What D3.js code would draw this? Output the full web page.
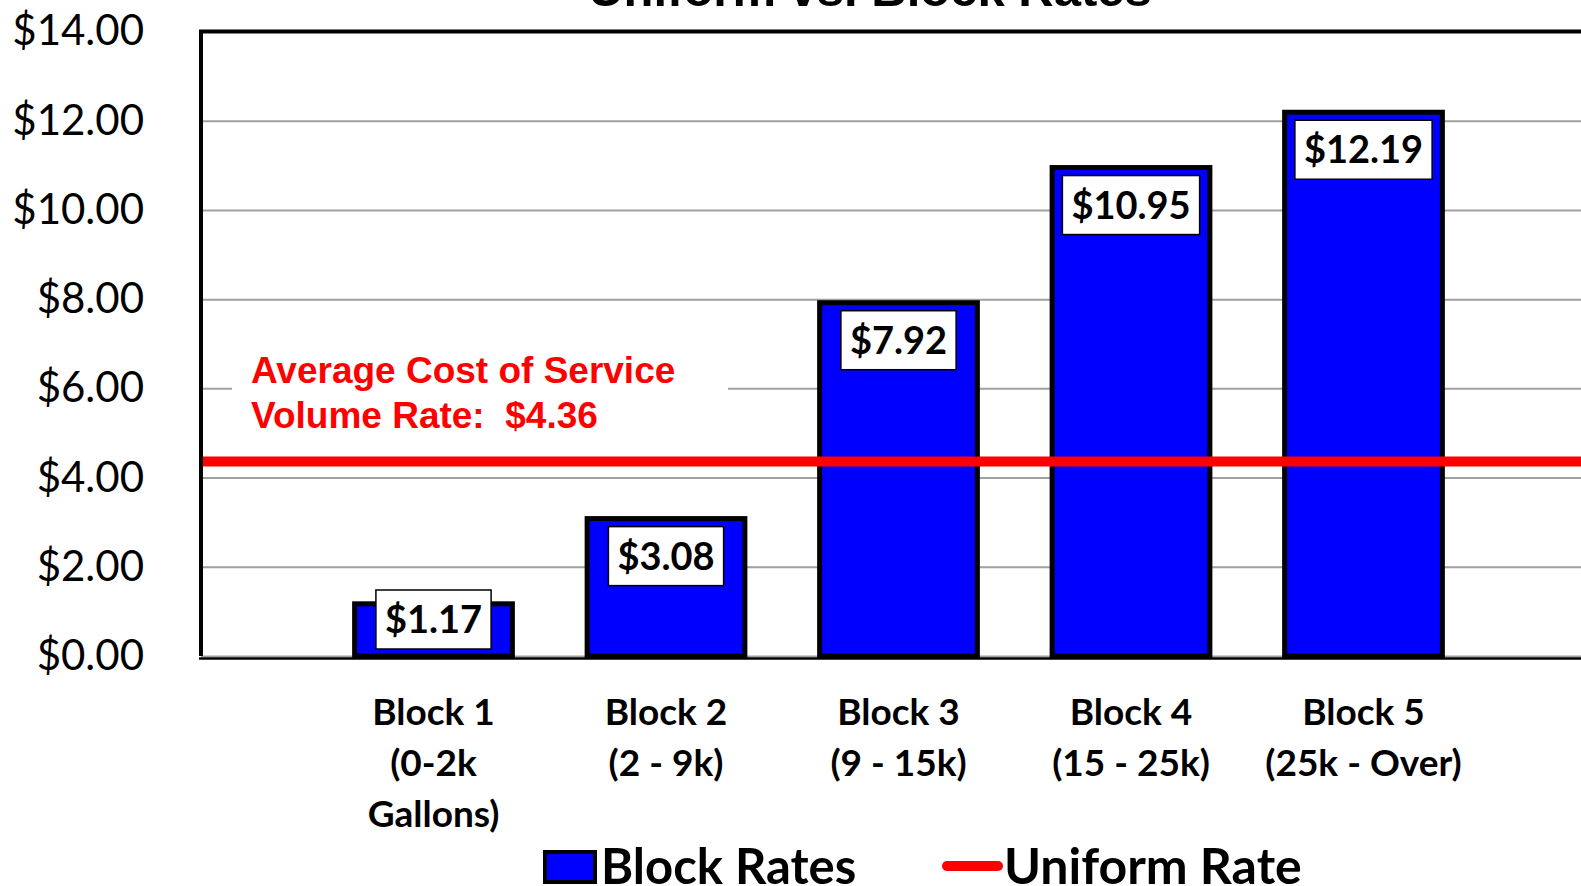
<!DOCTYPE html>
<html>
<head>
<meta charset="utf-8">
<script src="https://cdn.jsdelivr.net/npm/d3@7"></script>
<style>
  body { margin: 0; background: #fff; }
  svg { display: block; }
</style>
</head>
<body>
<svg id="rates-chart" width="1581" height="886"></svg>
<script>
// Uniform vs. Block Rates
const categories = ["Block 1", "Block 2", "Block 3", "Block 4", "Block 5"];
const subLabels = [["(0-2k", "Gallons)"], ["(2 - 9k)"], ["(9 - 15k)"], ["(15 - 25k)"], ["(25k - Over)"]];
const blockRates = [1.17, 3.08, 7.92, 10.95, 12.19];
const uniformRate = 4.36;
const yTicks = [0, 2, 4, 6, 8, 10, 12, 14];
const noteLines = ["Average Cost of Service", "Volume Rate:  $4.36"];

let svg = d3.select("#rates-chart");
const plotL = 201, plotR = 1596, plotT = 31.5, plotB = 656;

let y = d3.scaleLinear().domain([0, 14]).range([plotB, plotT]);
let x = d3.scaleBand()
          .domain(categories)
          .range([317.25, 1479.75])
          .paddingInner(0.3)
          .paddingOuter(0.15);

// title (cut off at top)
svg.append("text")
   .attr("x", 870).attr("y", 6)
   .attr("text-anchor", "middle")
   .style("font", "bold 49px 'Liberation Sans', Arial, sans-serif")
   .text("Uniform vs. Block Rates");

// gridlines
let grid = svg.append("g")
   .attr("transform", `translate(${plotL},0)`)
   .call(d3.axisLeft(y).tickValues(yTicks).tickSize(-(plotR - plotL)).tickFormat(""));
grid.select(".domain").remove();
grid.selectAll("line").attr("stroke", "#a0a0a0").attr("stroke-width", 2);

// note box (hides gridline behind text)
svg.append("rect")
   .attr("x", 232).attr("y", 345)
   .attr("width", 496).attr("height", 93)
   .attr("fill", "white");
svg.append("g").selectAll("text").data(noteLines)
   .join("text")
   .attr("x", 251)
   .attr("y", (d, i) => 383 + i * 45)
   .attr("fill", "#ff0000")
   .style("white-space", "pre")
   .style("font", "bold 37px 'Liberation Sans', Arial, sans-serif")
   .text(d => d);

// bars
svg.append("g").selectAll("rect").data(blockRates)
   .join("rect")
   .attr("x", (d, i) => x(categories[i]) + 2.5)
   .attr("width", x.bandwidth() - 5)
   .attr("y", d => y(d))
   .attr("height", d => y(0) - y(d))
   .attr("fill", "#0000ff")
   .attr("stroke", "black")
   .attr("stroke-width", 5);

// value labels
const boxH = 59;
let labels = svg.append("g").selectAll("g").data(blockRates)
   .join("g")
   .attr("transform", (d, i) => {
     let cx = x(categories[i]) + x.bandwidth() / 2;
     let ty = Math.min(y(d) + 8, plotB - 7 - boxH);
     return `translate(${cx},${ty})`;
   });
labels.append("rect")
   .attr("fill", "white").attr("stroke", "black").attr("stroke-width", 1.5)
   .attr("y", 0).attr("height", boxH);
labels.append("text")
   .attr("text-anchor", "middle")
   .attr("y", boxH / 2)
   .attr("dy", "0.36em")
   .style("font", "bold 38px Lato, sans-serif")
   .text(d => d3.format("$.2f")(d));
labels.each(function() {
  let w = d3.select(this).select("text").node().getBBox().width + 18;
  d3.select(this).select("rect").attr("x", -w / 2).attr("width", w);
});

// uniform rate line
svg.append("line")
   .attr("x1", plotL).attr("x2", plotR)
   .attr("y1", y(uniformRate)).attr("y2", y(uniformRate))
   .attr("stroke", "#ff0000").attr("stroke-width", 10);

// y axis labels
let yAxis = svg.append("g")
   .attr("transform", `translate(${plotL},0)`)
   .call(d3.axisLeft(y).tickValues(yTicks).tickSize(0).tickPadding(57).tickFormat(d3.format("$.2f")));
yAxis.select(".domain").remove();
yAxis.selectAll("text")
   .attr("fill", "black")
   .style("font", "42px Lato, sans-serif");

// x axis labels
let xAxis = svg.append("g")
   .attr("transform", `translate(0,${plotB})`)
   .call(d3.axisBottom(x).tickSize(0).tickFormat(""));
xAxis.select(".domain").remove();
xAxis.selectAll(".tick").each(function(d, i) {
  let lines = [d].concat(subLabels[i]);
  d3.select(this).selectAll("text.lbl").data(lines)
    .join("text").attr("class", "lbl")
    .attr("y", (t, j) => 69 + j * 51)
    .attr("text-anchor", "middle")
    .attr("fill", "black")
    .style("font", "bold 37px Lato, sans-serif")
    .text(t => t);
});

// frame: left + top borders, bottom axis line
svg.append("path")
   .attr("d", `M${plotL},${plotB}V${plotT}H${plotR}`)
   .attr("fill", "none").attr("stroke", "black").attr("stroke-width", 4);
svg.append("line")
   .attr("x1", plotL - 2).attr("x2", plotR)
   .attr("y1", plotB + 2.5).attr("y2", plotB + 2.5)
   .attr("stroke", "black").attr("stroke-width", 2.5);

// legend
let legend = svg.append("g");
legend.append("rect")
   .attr("x", 545).attr("y", 852).attr("width", 50).attr("height", 30)
   .attr("fill", "#0000ff").attr("stroke", "black").attr("stroke-width", 4);
legend.append("text")
   .attr("x", 601).attr("y", 884)
   .style("font", "bold 49px Lato, sans-serif")
   .text("Block Rates");
legend.append("line")
   .attr("x1", 947).attr("x2", 998).attr("y1", 866).attr("y2", 866)
   .attr("stroke", "#ff0000").attr("stroke-width", 10).attr("stroke-linecap", "round");
legend.append("text")
   .attr("x", 1004).attr("y", 884)
   .style("font", "bold 50px Lato, sans-serif")
   .text("Uniform Rate");
</script>
</body>
</html>
